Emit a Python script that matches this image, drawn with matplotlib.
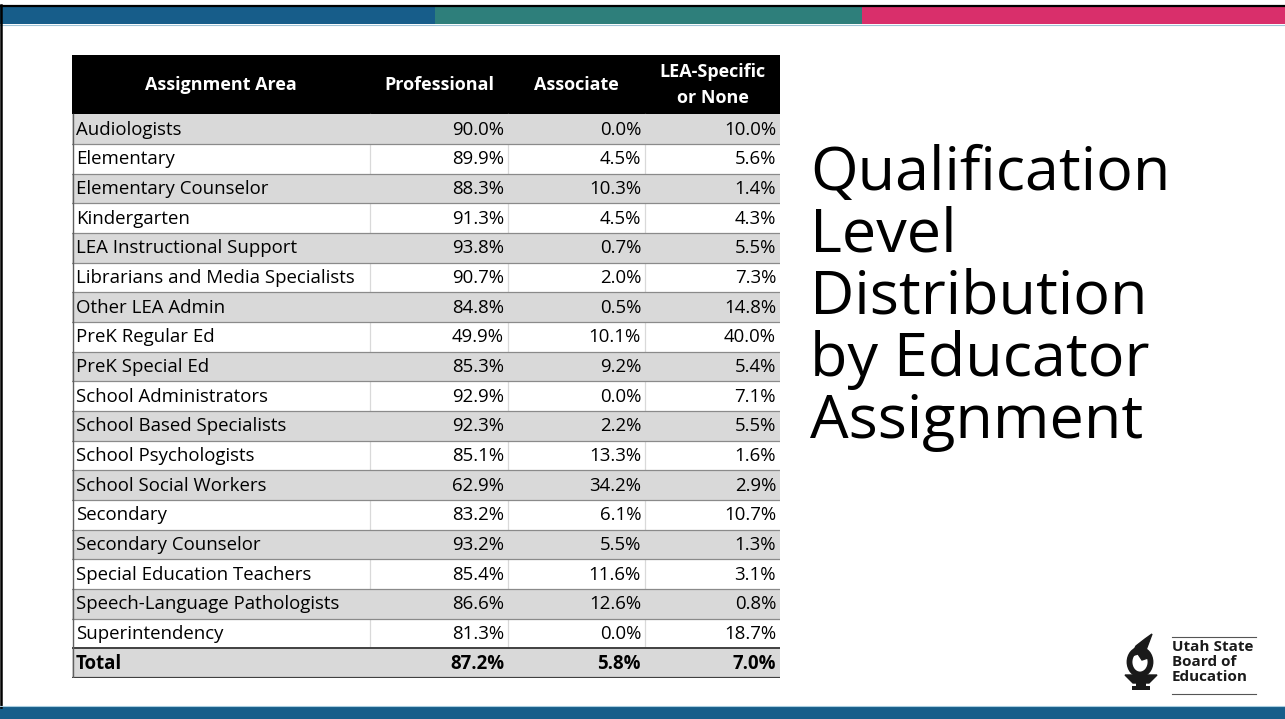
import matplotlib.pyplot as plt
from matplotlib.patches import Rectangle, Polygon, Ellipse

plt.rcParams['font.family'] = ['Open Sans', 'DejaVu Sans']

# table data
header = ["Assignment Area", "Professional", "Associate", "LEA-Specific\nor None"]
areas = ["Audiologists", "Elementary", "Elementary Counselor", "Kindergarten",
         "LEA Instructional Support", "Librarians and Media Specialists",
         "Other LEA Admin", "PreK Regular Ed", "PreK Special Ed",
         "School Administrators", "School Based Specialists",
         "School Psychologists", "School Social Workers", "Secondary",
         "Secondary Counselor", "Special Education Teachers",
         "Speech-Language Pathologists", "Superintendency"]
professional = [90.0, 89.9, 88.3, 91.3, 93.8, 90.7, 84.8, 49.9, 85.3,
                92.9, 92.3, 85.1, 62.9, 83.2, 93.2, 85.4, 86.6, 81.3]
associate = [0.0, 4.5, 10.3, 4.5, 0.7, 2.0, 0.5, 10.1, 9.2,
             0.0, 2.2, 13.3, 34.2, 6.1, 5.5, 11.6, 12.6, 0.0]
lea_none = [10.0, 5.6, 1.4, 4.3, 5.5, 7.3, 14.8, 40.0, 5.4,
            7.1, 5.5, 1.6, 2.9, 10.7, 1.3, 3.1, 0.8, 18.7]
total_label = "Total"
total_vals = [87.2, 5.8, 7.0]

title_lines = ["Qualification", "Level", "Distribution", "by Educator", "Assignment"]
logo_lines = ["Utah State", "Board of", "Education"]

W, H = 1285, 719
fig = plt.figure(figsize=(W / 100, H / 100), dpi=100)

# background / slide decoration in pixel coords
bg = fig.add_axes([0, 0, 1, 1])
bg.set_xlim(0, W)
bg.set_ylim(H, 0)
bg.axis('off')
bg.add_patch(Rectangle((0, 7), 435, 17, color='#175d8a', lw=0))
bg.add_patch(Rectangle((435, 7), 427, 17, color='#2e7f7b', lw=0))
bg.add_patch(Rectangle((862, 7), W - 862, 17, color='#d92f6b', lw=0))
bg.plot([0, W], [5.5, 5.5], color='black', lw=1.6)
bg.plot([0, W], [24.5, 24.5], color='#9fc3d6', lw=0.8)
bg.plot([1.2, 1.2], [5, 707], color='black', lw=1.8)
bg.add_patch(Rectangle((0, 707), W, 12, color='#175e8a', lw=0))
bg.plot([0, W], [706, 706], color='#a9cde0', lw=0.8)

# title
for i, line in enumerate(title_lines):
    bg.text(810, 190 + i * 62, line, fontsize=44, color='black',
            ha='left', va='baseline')

# logo: flame in a cup
ink = '#1a1a1a'
bg.add_patch(Ellipse((1140, 662), 21, 25, fill=False, ec=ink, lw=4.2))
bg.add_patch(Polygon([(1131, 656), (1136, 646), (1145, 639), (1152, 634),
                      (1149, 642), (1146, 650), (1148, 658), (1142, 660),
                      (1138, 654)], closed=True, color=ink))
bg.add_patch(Polygon([(1125, 675), (1157, 675), (1149, 683), (1133, 683)],
                     closed=True, color=ink))
bg.add_patch(Rectangle((1136, 683), 10, 3, color=ink, lw=0))
bg.add_patch(Rectangle((1132, 686), 18, 4, color=ink, lw=0))
bg.plot([1172, 1256], [637, 637], color='#555555', lw=0.8)
bg.plot([1172, 1256], [694, 694], color='#555555', lw=0.8)
for i, line in enumerate(logo_lines):
    bg.text(1172, 651 + i * 15, line, fontsize=11, fontweight='bold',
            color=ink, ha='left', va='baseline')

# table axes: x in pixels across table, y in row units (header = 2 units)
left, right, top, bottom = 72, 780, 55, 678
col_edges = [0, 298, 436, 573, 708]
n = len(areas) + 1
tx = fig.add_axes([left / W, 1 - bottom / H, (right - left) / W, (bottom - top) / H])
tx.set_xlim(0, col_edges[-1])
tx.set_ylim(n + 2, 0)
tx.axis('off')

tx.add_patch(Rectangle((0, 0), col_edges[-1], 2, color='black', lw=0))
for j, h in enumerate(header):
    cx = (col_edges[j] + col_edges[j + 1]) / 2
    tx.text(cx, 1.02, h, color='white', fontsize=13, fontweight='bold',
            ha='center', va='center', linespacing=1.55)

rows = [[a, p, s, l] for a, p, s, l in zip(areas, professional, associate, lea_none)]
rows.append([total_label] + total_vals)
fs = 13.4
for i, r in enumerate(rows):
    y0 = 2 + i
    is_total = i == len(rows) - 1
    if i % 2 == 0:
        tx.add_patch(Rectangle((0, y0), col_edges[-1], 1, color='#d9d9d9', lw=0))
    weight = 'bold' if is_total else 'normal'
    tx.text(4, y0 + 0.52, r[0], fontsize=fs, fontweight=weight,
            ha='left', va='center', color='black')
    for j, v in enumerate(r[1:]):
        tx.text(col_edges[j + 2] - 4, y0 + 0.52, f"{v:.1f}%", fontsize=fs,
                fontweight=weight, ha='right', va='center', color='black')

# grid lines
for x in col_edges[1:4]:
    tx.plot([x, x], [2, n + 1], color='#d9d9d9', lw=0.9, zorder=1)
for i in range(1, n - 1):
    tx.plot([0, col_edges[-1]], [2 + i, 2 + i], color='#8a8a8a', lw=0.9)
tx.plot([0, col_edges[-1]], [n + 1, n + 1], color='#404040', lw=1.4)
tx.plot([0, col_edges[-1]], [n + 2, n + 2], color='#404040', lw=1.6)
tx.plot([0.5, 0.5], [2, n + 2], color='#606060', lw=1.0)

fig.savefig('out.png', dpi=100)
